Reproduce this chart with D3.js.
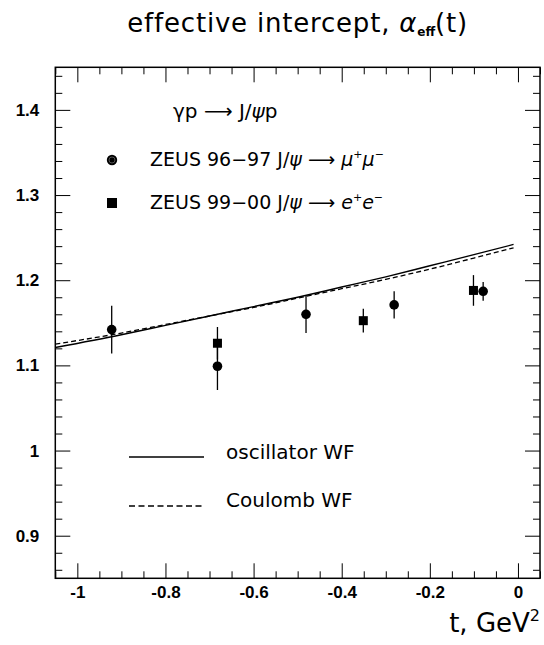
<!DOCTYPE html>
<html>
<head>
<meta charset="utf-8">
<script src="https://cdn.jsdelivr.net/npm/d3@7"></script>
<style>
  html, body { margin: 0; padding: 0; background: #fff; }
  svg { display: block; }
</style>
</head>
<body>
<script>
// ---------- data ----------
const xTickValues = [-1, -0.8, -0.6, -0.4, -0.2, 0];
const xTickLabels = ["-1", "-0.8", "-0.6", "-0.4", "-0.2", "0"];
const yTickValues = [0.9, 1.0, 1.1, 1.2, 1.3, 1.4];
const yTickLabels = ["0.9", "1", "1.1", "1.2", "1.3", "1.4"];

// ZEUS 96-97 J/psi -> mu+ mu-  (circles)
const zeus9697T   = [-0.922, -0.682, -0.481, -0.281, -0.079];
const zeus9697A   = [1.142, 1.099, 1.160, 1.171, 1.187];
const zeus9697Err = [0.028, 0.028, 0.022, 0.016, 0.011];

// ZEUS 99-00 J/psi -> e+ e-  (squares)
const zeus9900T   = [-0.682, -0.351, -0.101];
const zeus9900A   = [1.126, 1.1525, 1.188];
const zeus9900Err = [0.019, 0.014, 0.018];

// model curves
const curveT       = [-1.05, -0.9, -0.8, -0.7, -0.6, -0.5, -0.4, -0.3, -0.2, -0.1, -0.01];
const oscillatorWF = [1.121, 1.136, 1.147, 1.158, 1.169, 1.180, 1.192, 1.204, 1.217, 1.230, 1.242];
const coulombWF    = [1.125, 1.138, 1.148, 1.158, 1.168, 1.179, 1.190, 1.201, 1.213, 1.226, 1.238];

// ---------- layout ----------
const W = 544, H = 645;
const fx0 = 55.3, fx1 = 540, fy0 = 67.3, fy1 = 578.3;

const svg = d3.select("body").append("svg")
  .attr("width", W).attr("height", H)
  .attr("viewBox", `0 0 ${W} ${H}`);
svg.append("rect").attr("width", W).attr("height", H).attr("fill", "#fff");

const x = d3.scaleLinear().domain([-1.05, 0.05]).range([fx0, fx1]);
const y = d3.scaleLinear().domain([0.85, 1.45]).range([fy1, fy0]);

const xMinor = d3.range(-21, 2).map(i => +(i * 0.05).toFixed(2)).filter(v => v >= -1.05 && v <= 0.05 && !xTickValues.some(m => Math.abs(m - v) < 1e-6));
const yMinor = d3.range(43, 73).map(i => +(i * 0.02).toFixed(2)).filter(v => v > 0.85 && v < 1.45 && !yTickValues.some(m => Math.abs(m - v) < 1e-6));

const tickFont = "'Liberation Sans', Arial, sans-serif";
const textFont = "'DejaVu Sans', sans-serif";

function styleAxis(g) {
  g.select(".domain").remove();
  g.selectAll(".tick line").attr("stroke", "#000").attr("stroke-width", 1);
  g.selectAll("text").attr("font-family", tickFont).attr("font-weight", "bold")
    .attr("font-size", 17).attr("fill", "#000");
}

// bottom axis (major with labels)
svg.append("g").attr("transform", `translate(0,${fy1})`)
  .call(d3.axisBottom(x).tickValues(xTickValues).tickSize(-15).tickPadding(8)
    .tickFormat((d, i) => xTickLabels[i]))
  .call(styleAxis);
svg.append("g").attr("transform", `translate(0,${fy1})`)
  .call(d3.axisBottom(x).tickValues(xMinor).tickSize(-7).tickFormat(""))
  .call(styleAxis);
// top axis ticks
svg.append("g").attr("transform", `translate(0,${fy0})`)
  .call(d3.axisTop(x).tickValues(xTickValues).tickSize(-15).tickFormat(""))
  .call(styleAxis);
svg.append("g").attr("transform", `translate(0,${fy0})`)
  .call(d3.axisTop(x).tickValues(xMinor).tickSize(-7).tickFormat(""))
  .call(styleAxis);
// left axis
svg.append("g").attr("transform", `translate(${fx0},0)`)
  .call(d3.axisLeft(y).tickValues(yTickValues).tickSize(-15).tickPadding(16)
    .tickFormat((d, i) => yTickLabels[i]))
  .call(styleAxis);
svg.append("g").attr("transform", `translate(${fx0},0)`)
  .call(d3.axisLeft(y).tickValues(yMinor).tickSize(-7).tickFormat(""))
  .call(styleAxis);
// right axis ticks
svg.append("g").attr("transform", `translate(${fx1},0)`)
  .call(d3.axisRight(y).tickValues(yTickValues).tickSize(-15).tickFormat(""))
  .call(styleAxis);
svg.append("g").attr("transform", `translate(${fx1},0)`)
  .call(d3.axisRight(y).tickValues(yMinor).tickSize(-7).tickFormat(""))
  .call(styleAxis);

// frame
svg.append("rect").attr("x", fx0).attr("y", fy0)
  .attr("width", fx1 - fx0).attr("height", fy1 - fy0)
  .attr("fill", "none").attr("stroke", "#000").attr("stroke-width", 1.5);

// curves
svg.append("clipPath").attr("id", "clip").append("rect")
  .attr("x", fx0).attr("y", fy0).attr("width", fx1 - fx0).attr("height", fy1 - fy0);
const line = d3.line().x(d => x(d[0])).y(d => y(d[1])).curve(d3.curveMonotoneX);
const plot = svg.append("g").attr("clip-path", "url(#clip)");
plot.append("path").datum(curveT.map((t, i) => [t, oscillatorWF[i]]))
  .attr("d", line).attr("fill", "none").attr("stroke", "#000").attr("stroke-width", 1.4);
plot.append("path").datum(curveT.map((t, i) => [t, coulombWF[i]]))
  .attr("d", line).attr("fill", "none").attr("stroke", "#000").attr("stroke-width", 1.3)
  .attr("stroke-dasharray", "5,3");

// error bars
const allPts = zeus9697T.map((t, i) => ({t, a: zeus9697A[i], e: zeus9697Err[i], kind: "c"}))
  .concat(zeus9900T.map((t, i) => ({t, a: zeus9900A[i], e: zeus9900Err[i], kind: "s"})));
plot.selectAll(".err").data(allPts).enter().append("line")
  .attr("x1", d => x(d.t)).attr("x2", d => x(d.t))
  .attr("y1", d => y(d.a - d.e)).attr("y2", d => y(d.a + d.e))
  .attr("stroke", "#000").attr("stroke-width", 1.3);
// markers
plot.selectAll(".circ").data(allPts.filter(d => d.kind === "c")).enter().append("circle")
  .attr("cx", d => x(d.t)).attr("cy", d => y(d.a)).attr("r", 4.8).attr("fill", "#000");
plot.selectAll(".sq").data(allPts.filter(d => d.kind === "s")).enter().append("rect")
  .attr("x", d => x(d.t) - 4.5).attr("y", d => y(d.a) - 4.5)
  .attr("width", 9).attr("height", 9).attr("fill", "#000");

// title
const title = svg.append("text").attr("x", (fx0 + fx1) / 2).attr("y", 32)
  .attr("text-anchor", "middle").attr("font-family", textFont).attr("font-size", 26)
  .attr("letter-spacing", 0.8).attr("fill", "#000");
title.append("tspan").text("effective intercept, ");
title.append("tspan").attr("font-style", "italic").text("α");
title.append("tspan").attr("font-size", 12).attr("font-weight", "bold").attr("dy", 4).attr("letter-spacing", 0).text("eff");
title.append("tspan").attr("dy", -4).text("(t)");

// x axis title
const xt = svg.append("text").attr("x", 540).attr("y", 632).attr("text-anchor", "end")
  .attr("font-family", textFont).attr("font-size", 26).attr("fill", "#000");
xt.append("tspan").text("t, GeV");
xt.append("tspan").attr("font-size", 16).attr("dy", -11).text("2");

// legend (top)
const lg = svg.append("g").attr("font-family", textFont).attr("fill", "#000");
const l0 = lg.append("text").attr("x", 173).attr("y", 118).attr("font-size", 20);
l0.append("tspan").text("γp ");
l0.append("tspan").text("⟶");
l0.append("tspan").text(" J/");
l0.append("tspan").attr("font-style", "italic").text("ψ");
l0.append("tspan").text("p");

lg.append("circle").attr("cx", 112).attr("cy", 160).attr("r", 5.2).attr("fill", "#000");
lg.append("circle").attr("cx", 112).attr("cy", 160).attr("r", 3).attr("fill", "none")
  .attr("stroke", "#666").attr("stroke-width", 0.8);
const l1 = lg.append("text").attr("x", 150).attr("y", 166).attr("font-size", 19);
l1.append("tspan").text("ZEUS 96−97 J/");
l1.append("tspan").attr("font-style", "italic").text("ψ");
l1.append("tspan").text(" ⟶ ");
l1.append("tspan").attr("font-style", "italic").text("μ");
l1.append("tspan").attr("font-size", 11).attr("dy", -8).text("+");
l1.append("tspan").attr("font-style", "italic").attr("dy", 8).text("μ");
l1.append("tspan").attr("font-size", 11).attr("dy", -8).text("−");

lg.append("rect").attr("x", 107).attr("y", 198).attr("width", 10).attr("height", 10).attr("fill", "#000");
const l2 = lg.append("text").attr("x", 150).attr("y", 209).attr("font-size", 19);
l2.append("tspan").text("ZEUS 99−00 J/");
l2.append("tspan").attr("font-style", "italic").text("ψ");
l2.append("tspan").text(" ⟶ ");
l2.append("tspan").attr("font-style", "italic").text("e");
l2.append("tspan").attr("font-size", 11).attr("dy", -8).text("+");
l2.append("tspan").attr("font-style", "italic").attr("dy", 8).text("e");
l2.append("tspan").attr("font-size", 11).attr("dy", -8).text("−");

// legend (curves)
lg.append("line").attr("x1", 129).attr("x2", 204).attr("y1", 457).attr("y2", 457)
  .attr("stroke", "#000").attr("stroke-width", 1.6);
lg.append("text").attr("x", 226).attr("y", 459).attr("font-size", 20).text("oscillator WF");
lg.append("line").attr("x1", 129).attr("x2", 204).attr("y1", 506).attr("y2", 506)
  .attr("stroke", "#000").attr("stroke-width", 1.3).attr("stroke-dasharray", "6,3.5");
lg.append("text").attr("x", 226).attr("y", 507).attr("font-size", 20).text("Coulomb WF");
</script>
</body>
</html>
